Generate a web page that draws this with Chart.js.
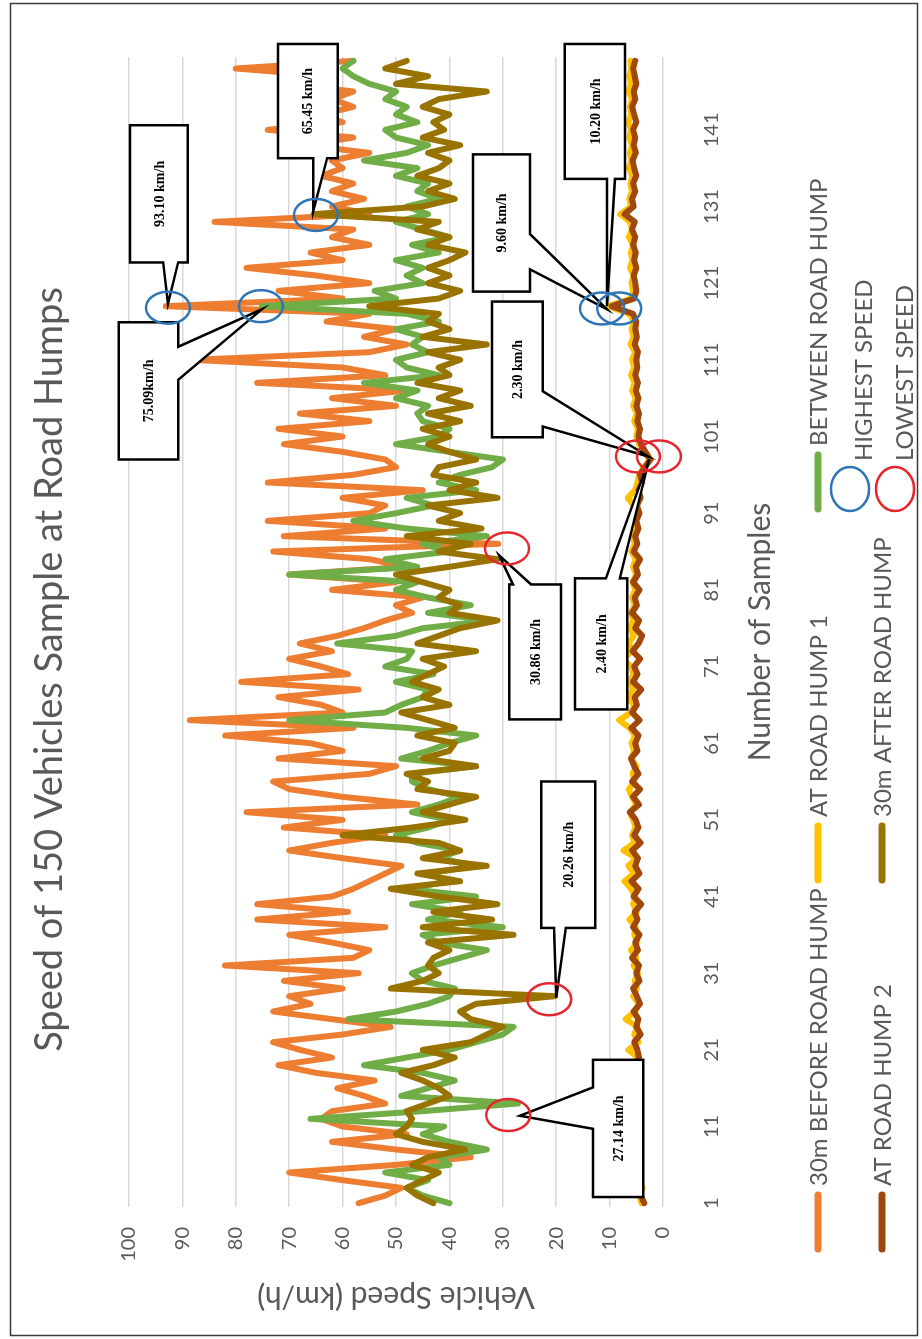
<!DOCTYPE html>
<html><head><meta charset="utf-8">
<script src="https://cdn.jsdelivr.net/npm/chart.js@4.4.1/dist/chart.umd.min.js"></script>
<style>
html,body{margin:0;padding:0;background:#fff;}
body{width:922px;height:1339px;overflow:hidden;position:relative;}
#wrap{position:absolute;left:0;top:0;width:1339px;height:922px;transform-origin:0 0;transform:translate(0,1339px) rotate(-90deg);}
canvas{display:block;}
</style></head><body>
<div id="wrap"><canvas id="c" width="1339" height="922"></canvas></div>
<script>
// ---------- DATA ----------
const chartTitle = 'Speed of 150 Vehicles Sample at Road Humps';
const sampleNumbers = Array.from({length:150},(_,i)=>String(i+1));
const tickLabels = ['1','11','21','31','41','51','61','71','81','91','101','111','121','131','141'];
const valueTicks = [0,10,20,30,40,50,60,70,80,90,100];

const before30m = [57,52,49,60,70,50,36,50,62,48,60,
 64,62,52,56,61,54,65,72,62,68,73,60,51,62,73,66,70,60,71,57,82,58,55,
 62,70,52,76,59,76,62,58,55,52,49,60,70,62,52,71,60,78,46,60,70,73,
 55,50,72,60,66,82,58,88.6,60,64,72,57,79,59,64,70,62,68,61,56,52,47,
 50,45,62,50,70,48,55,73,30.86,71,52,74,55,52,60,45,74,58,50,52,60,71,
 60,72,55,68,50,62,48,76,52,60,88,55,48,56,50,63,55,93.1,60,72,55,65,
 78,60,66,55,62,58,84,55,62,56,62,58,64,60,62,55,67,58,74,60,64,58,62,
 58,70,62,80,58];

const atHump1 = [4.0,4.5,3.8,4.6,4.2,5.0,4.4,4.8,4.1,4.6,
 4.3,4.9,4.5,5.1,4.4,4.8,5.2,4.5,5.0,4.7,
 6.5,4.6,5.4,4.8,7.0,5.2,4.6,5.6,4.9,5.3,
 4.7,5.5,5.0,6.0,4.8,5.4,5.1,6.3,4.9,5.6,
 5.2,6.0,7.2,5.4,6.5,5.0,7.4,5.3,5.8,5.1,
 5.6,6.2,5.0,5.8,6.4,5.3,5.7,5.0,6.0,5.4,
 5.9,5.2,6.3,8.2,6.0,5.4,6.6,5.6,6.2,5.5,
 6.0,7.5,5.8,6.4,5.5,6.1,5.6,6.0,5.3,5.8,
 5.2,5.7,5.0,5.6,5.1,5.9,5.3,5.7,5.0,5.4,
 4.9,5.5,6.6,5.2,4.8,4.5,3.6,2.3,3.8,4.5,
 5.0,4.7,5.4,4.9,5.6,5.1,5.8,5.3,6.0,5.4,
 5.8,5.2,6.1,5.5,5.9,5.4,6.3,10.2,6.0,5.6,
 5.9,5.5,6.2,5.7,6.0,5.6,6.4,5.8,6.2,8.0,
 6.0,6.3,5.8,6.1,5.7,6.4,5.9,6.2,5.8,6.3,
 6.0,6.5,5.9,6.2,5.8,6.4,6.0,6.3,5.9,6.1];

const betweenHumps = [40,45,48,44,52,40,42,33,40,45,41,
 66,45,27.14,49,44,39,45,56,48,40,35,30,28,59,50,44,40,39,45,47,43,38,33,
 42,45,30,44,38,47,35,48,40,44,35,42,38,46,50,44,40,47,42,38,44,47,
 47,35,49,44,40,35,48,70,52,49,45,44,50,43,52,48,47,61,50,45,32,44,
 36,44,50,46,70,46,52,40,45,33,48,58,50,43,48,35,42,38,32,30,40,50,
 42,40,45,46,44,50,46,56,42,48,50,44,47,45,50,42,48,75.09,50,54,45,48,
 45,50,42,47,40,45,50,44,48,42,46,44,50,46,56,48,44,50,52,46,50,48,52,
 50,55,58,60,58];

const atHump2 = [3.5,4.2,5.0,4.5,5.2,4.8,5.5,4.6,5.1,4.4,
 5.0,4.7,5.3,4.6,5.2,4.9,5.5,4.8,5.0,4.5,
 4.8,5.4,4.2,5.0,4.6,5.5,4.3,4.9,5.6,4.4,
 5.0,4.5,5.8,4.7,5.2,4.4,5.6,4.8,5.3,4.1,
 5.5,4.6,5.9,4.4,5.2,4.7,5.8,4.2,5.4,4.6,
 5.1,6.2,4.5,5.6,4.3,5.8,4.6,5.4,6.0,4.8,
 5.2,4.6,5.9,4.4,5.8,4.9,5.3,4.1,5.6,4.8,
 5.4,4.3,5.7,4.6,3.9,5.2,4.5,5.8,4.9,5.3,
 4.4,5.6,4.7,5.1,4.3,5.5,4.8,5.2,4.6,5.0,
 4.4,4.9,4.2,4.6,3.9,4.3,3.4,2.4,3.3,4.1,
 4.6,4.3,4.8,4.5,5.0,4.6,5.1,4.7,5.2,4.8,
 5.0,4.7,5.3,4.9,5.2,5.0,5.6,9.6,5.4,5.0,
 5.2,5.5,5.0,5.4,5.1,5.6,5.2,5.8,5.3,7.2,
 5.5,5.8,5.2,5.6,5.0,5.4,5.7,5.1,5.5,5.2,
 5.6,5.0,5.4,5.8,5.2,5.5,5.0,5.3,5.6,5.2];

const after30m = [43,46,48,45,42,47,44,37,45,50,48,
 47,48,44,40,42,45,49,43,39,45,36,33,30,36,38,35,20.26,51,45,42,44,43,40,
 44,28,45,32,43,31,42,51,38,46,33,45,38,42,60,47,37,45,40,35,46,44,
 48,35,45,40,39,46,39,44,49,40,45,42,47,44,41,45,35,46,42,38,31,40,
 38,42,40,45,50,40,31,42,36,48,34,42,38,44,31,40,35,43,42,35,40,44,
 40,45,38,44,36,42,38,46,40,42,38,44,33,45,40,44,42,55,42,38,44,40,
 44,40,37,44,40,46,42,65.45,45,39,44,40,46,42,40,44,38,45,41,43,40,45,42,
 33,50,44,52,48];

const seriesNames = ['30m BEFORE ROAD HUMP','AT ROAD HUMP 1','BETWEEN ROAD HUMP','AT ROAD HUMP 2','30m AFTER ROAD HUMP'];
const seriesColors = ['#ED7D31','#FFC000','#70AD47','#9E480E','#997300'];

// highlighted points [sample, speed]
const highestMarks = [[117.8,92.7],[118,75.3],[129.9,65.0],[117.7,11.4],[117.7,8.2]];
const lowestMarks  = [[12.5,29.0],[27.6,21.3],[86.4,29.2],[98.4,4.7],[98.4,0.75]];

// callouts: text, sample range, speed range, side of pointer, pointer base range, pointer tip [sample, speed]
const callouts = [
 {text:'93.10 km/h', s:[123.7,141.6], v:[89.0,99.8], edge:'left',   base:[90.8,93.6], tip:[118.3,92.7]},
 {text:'75.09km/h',  s:[98.0,115.9],  v:[90.8,101.9],edge:'bottom', base:[108.4,112.7], tip:[117.6,75.1]},
 {text:'65.45 km/h', s:[137.3,152.2], v:[60.9,72.1], edge:'left',   base:[62.9,65.5], tip:[130.4,65.5]},
 {text:'10.20 km/h', s:[134.6,152.2], v:[7.1,18.4],  edge:'left',   base:[9.0,10.5], tip:[118,10.5]},
 {text:'9.60 km/h',  s:[119.9,137.8], v:[24.9,35.6], edge:'bottom', base:[122.8,127.4], tip:[117.6,10.5]},
 {text:'2.30 km/h',  s:[100.9,118.6], v:[22.5,32.0], edge:'bottom', base:[102.3,106.9], tip:[98.4,2.8]},
 {text:'2.40 km/h',  s:[65.4,82.5],   v:[6.7,16.5],  edge:'right',  base:[8.1,10.7], tip:[98,2.6]},
 {text:'30.86 km/h', s:[64.1,81.7],   v:[19.1,28.8], edge:'right',  base:[24.7,28.1], tip:[85.5,30.7]},
 {text:'20.26 km/h', s:[36.9,56.0],   v:[12.7,22.8], edge:'left',   base:[18.2,20.4], tip:[27.8,20.0]},
 {text:'27.14 km/h', s:[1.8,19.7],    v:[3.7,13.1],  edge:'top',    base:[10.7,16.1], tip:[12.4,26.8]}
];

// ---------- DRAWING ----------
const FONT = 'Lato, "Open Sans", sans-serif';
const GREY = '#595959';

function drawCallout(ctx, c, px, py){
  const L = px(Math.min(...c.s)), R = px(Math.max(...c.s));
  const T = py(Math.max(...c.v)), B = py(Math.min(...c.v));
  const tip = [px(c.tip[0]), py(c.tip[1])];
  let pts;
  if (c.edge === 'left' || c.edge === 'right'){
    const a = py(c.base[0]), b = py(c.base[1]);
    const y1 = Math.min(a,b), y2 = Math.max(a,b);
    if (c.edge === 'left') pts = [[L,T],[R,T],[R,B],[L,B],[L,y2],tip,[L,y1]];
    else pts = [[L,T],[R,T],[R,y1],tip,[R,y2],[R,B],[L,B]];
  } else {
    const a = px(c.base[0]), b = px(c.base[1]);
    const x1 = Math.min(a,b), x2 = Math.max(a,b);
    if (c.edge === 'top') pts = [[L,T],[x1,T],tip,[x2,T],[R,T],[R,B],[L,B]];
    else pts = [[L,T],[R,T],[R,B],[x2,B],tip,[x1,B],[L,B]];
  }
  ctx.beginPath();
  pts.forEach((p,i)=> i ? ctx.lineTo(p[0],p[1]) : ctx.moveTo(p[0],p[1]));
  ctx.closePath();
  ctx.fillStyle = '#fff'; ctx.fill();
  ctx.strokeStyle = '#000'; ctx.lineWidth = 2.5; ctx.lineJoin = 'miter'; ctx.stroke();
  ctx.fillStyle = '#000';
  ctx.font = 'bold 14px "Liberation Serif", "Times New Roman", serif';
  ctx.textAlign = 'center'; ctx.textBaseline = 'middle';
  ctx.fillText(c.text, (L+R)/2, (T+B)/2 + 1);
}

function ellipse(ctx, x, y, rx, ry, color){
  ctx.beginPath(); ctx.ellipse(x, y, rx, ry, 0, 0, Math.PI*2);
  ctx.strokeStyle = color; ctx.lineWidth = 2.5; ctx.stroke();
}

const decor = {
  id: 'decor',
  beforeDraw(chart){
    const ctx = chart.ctx;
    ctx.save();
    ctx.fillStyle = '#fff'; ctx.fillRect(0,0,chart.width,chart.height);
    ctx.strokeStyle = '#3a3a3a'; ctx.lineWidth = 1.5;
    ctx.strokeRect(3.5, 10.5, 1332, 907);
    ctx.restore();
  },
  afterDraw(chart){
    const ctx = chart.ctx, xs = chart.scales.x, ys = chart.scales.y;
    const px = s => xs.getPixelForValue(s - 1), py = v => ys.getPixelForValue(v);
    ctx.save();
    // title
    ctx.fillStyle = GREY; ctx.font = '38px ' + FONT;
    ctx.textAlign = 'center'; ctx.textBaseline = 'middle';
    ctx.fillText(chartTitle, 669.5, 50);
    // callouts
    callouts.forEach(c => drawCallout(ctx, c, px, py));
    // circles
    highestMarks.forEach(m => ellipse(ctx, px(m[0]), py(m[1]), 16, 22, '#2E75B6'));
    lowestMarks.forEach(m => ellipse(ctx, px(m[0]), py(m[1]), 16, 22, '#E5262E'));
    // legend
    const rowY = [818, 882];
    const lineItems = [
      {i:0, x:90,  y:rowY[0]}, {i:1, x:459, y:rowY[0]}, {i:2, x:830, y:rowY[0]},
      {i:3, x:90,  y:rowY[1]}, {i:4, x:459, y:rowY[1]}
    ];
    ctx.font = '24px ' + FONT; ctx.textAlign = 'left'; ctx.textBaseline = 'middle';
    lineItems.forEach(it => {
      ctx.beginPath(); ctx.moveTo(it.x, it.y); ctx.lineTo(it.x + 54, it.y);
      ctx.strokeStyle = seriesColors[it.i]; ctx.lineWidth = 7; ctx.lineCap = 'round'; ctx.stroke();
      ctx.fillStyle = GREY; ctx.fillText(seriesNames[it.i], it.x + 63, it.y + 1);
    });
    ellipse(ctx, 850, 850, 22, 19, '#2E75B6');
    ellipse(ctx, 850, 895, 22, 19, '#E5262E');
    ctx.fillStyle = GREY;
    ctx.fillText('HIGHEST SPEED', 878, 864);
    ctx.fillText('LOWEST SPEED', 878, 905);
    ctx.restore();
  }
};

const seriesData = [before30m, atHump1, betweenHumps, atHump2, after30m];
const drawOrder = [5, 4, 3, 2, 1];

new Chart(document.getElementById('c'), {
  type: 'line',
  data: {
    labels: sampleNumbers,
    datasets: seriesData.map((d, i) => ({
      label: seriesNames[i], data: d, borderColor: seriesColors[i], backgroundColor: seriesColors[i],
      borderWidth: 6, pointRadius: 0, tension: 0, fill: false,
      borderCapStyle: 'round', borderJoinStyle: 'round', order: drawOrder[i]
    }))
  },
  options: {
    responsive: false, animation: false, devicePixelRatio: 1,
    layout: { padding: { left: 0, right: 57, top: 129, bottom: 0 } },
    plugins: { legend: { display: false }, title: { display: false }, tooltip: { enabled: false } },
    scales: {
      x: {
        type: 'category', offset: true,
        grid: { display: false, drawTicks: false }, border: { display: false },
        ticks: {
          autoSkip: false, maxRotation: 0, minRotation: 0, padding: 37, color: GREY,
          font: { family: FONT, size: 20 },
          callback: function(val){ const l = this.getLabelForValue(val); return tickLabels.includes(l) ? l : null; }
        },
        title: { display: true, text: 'Number of Samples', color: GREY, font: { family: FONT, size: 30 }, padding: { top: 0, bottom: 144 } },
        afterFit: s => { s.height = 259; }
      },
      y: {
        min: 0, max: 100,
        afterBuildTicks: s => { s.ticks = valueTicks.map(v => ({ value: v })); },
        grid: { color: '#D9D9D9', lineWidth: 1.5, drawTicks: false }, border: { display: false },
        ticks: { padding: 20, color: GREY, font: { family: FONT, size: 20 } },
        title: { display: true, text: 'Vehicle Speed (km/h)', color: GREY, font: { family: FONT, size: 30 }, padding: { top: 24, bottom: 0 } },
        afterFit: s => { s.width = 132; }
      }
    }
  },
  plugins: [decor]
});
</script>
</body></html>
